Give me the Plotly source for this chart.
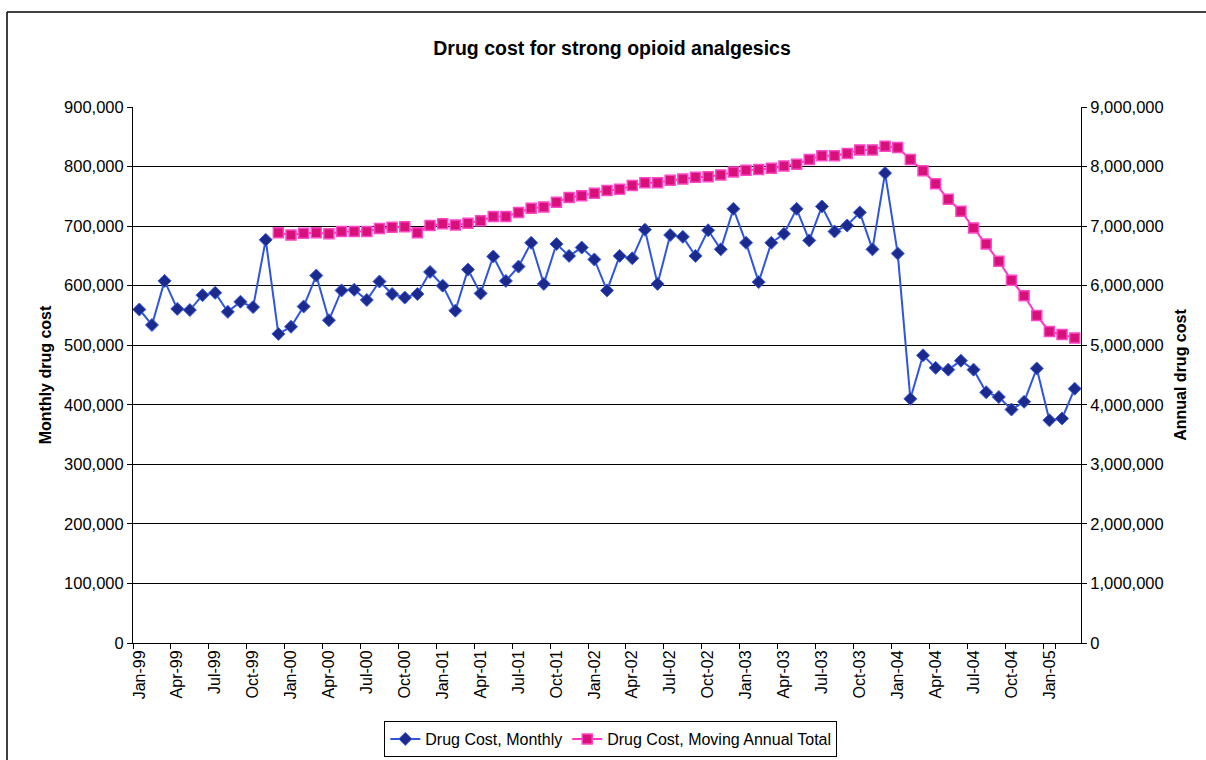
import plotly.graph_objects as go

months = ["Jan", "Feb", "Mar", "Apr", "May", "Jun", "Jul", "Aug", "Sep", "Oct", "Nov", "Dec"]
years = ["99", "00", "01", "02", "03", "04", "05"]
categories = [f"{m}-{y}" for y in years for m in months][:75]  # Jan-99 .. Mar-05

monthly_cost = [
    560000, 534000, 608000, 561000, 559000, 584000, 588000, 556000, 573000, 564000, 677000, 519000,
    531000, 565000, 617000, 542000, 592000, 593000, 576000, 607000, 586000, 580000, 586000, 623000,
    600000, 558000, 627000, 587000, 649000, 608000, 632000, 672000, 603000, 670000, 650000, 664000,
    644000, 592000, 650000, 646000, 694000, 603000, 685000, 682000, 650000, 693000, 661000, 729000,
    672000, 606000, 672000, 687000, 729000, 676000, 733000, 691000, 701000, 723000, 661000, 789000,
    654000, 410000, 483000, 462000, 459000, 474000, 459000, 421000, 413000, 392000, 405000, 461000,
    374000, 377000, 427000,
]

moving_annual_total = [None] * 11 + [
    6890000,
    6850000, 6880000, 6890000, 6870000, 6910000, 6910000, 6910000, 6960000, 6980000, 6990000, 6890000, 7010000,
    7040000, 7020000, 7050000, 7090000, 7160000, 7160000, 7230000, 7300000, 7320000, 7400000, 7480000, 7510000,
    7550000, 7600000, 7620000, 7680000, 7730000, 7730000, 7770000, 7790000, 7820000, 7830000, 7860000, 7910000,
    7940000, 7950000, 7970000, 8010000, 8040000, 8120000, 8180000, 8180000, 8220000, 8280000, 8280000, 8340000,
    8320000, 8120000, 7930000, 7710000, 7450000, 7250000, 6970000, 6700000, 6410000, 6090000, 5830000, 5500000,
    5230000, 5180000, 5120000,
]

tick_labels = categories[::3]

FONT = "Liberation Sans, Arial, sans-serif"

fig = go.Figure()
fig.add_trace(go.Scatter(
    x=categories, y=monthly_cost, name="Drug Cost, Monthly", mode="lines+markers",
    line=dict(color="#2f55e0", width=2),
    marker=dict(symbol="diamond", size=10, color="#1c2a8c", line=dict(color="#3a5ce8", width=1)),
    yaxis="y",
))
fig.add_trace(go.Scatter(
    x=categories, y=moving_annual_total, name="Drug Cost, Moving Annual Total", mode="lines+markers",
    line=dict(color="#ff33c4", width=2),
    marker=dict(symbol="square", size=10, color="#d6117a", line=dict(color="#ff45c8", width=1.5)),
    yaxis="y2",
))

fig.update_layout(
    width=1206, height=760,
    margin=dict(l=133, r=125, t=107, b=117),
    paper_bgcolor="white", plot_bgcolor="white",
    font=dict(family=FONT, color="black", size=16),
    title=dict(text="<b>Drug cost for strong opioid analgesics</b>", x=0.5075, xanchor="center",
               y=1 - 48 / 760, yanchor="middle", yref="container", font=dict(size=19.5, family=FONT)),
    xaxis=dict(
        type="category", categoryorder="array", categoryarray=categories,
        range=[-0.5, 74.5], tickmode="array", tickvals=tick_labels, ticktext=tick_labels,
        tickson="boundaries", ticks="outside", ticklen=5, tickcolor="black",
        tickangle=-90, tickfont=dict(size=16), automargin=False,
        showgrid=False, showline=True, linecolor="black", linewidth=1, zeroline=False,
    ),
    yaxis=dict(
        range=[0, 900000], dtick=100000, tickformat=",", ticks="outside", ticklen=5, tickcolor="black",
        showgrid=True, gridcolor="black", gridwidth=1, showline=True, linecolor="black", linewidth=1,
        zeroline=False, tickfont=dict(size=16.5), automargin=False,
        title=dict(text="<b>Monthly drug cost</b>", font=dict(size=16), standoff=8),
    ),
    yaxis2=dict(
        range=[0, 9000000], dtick=1000000, tickformat=",", overlaying="y", side="right",
        ticks="outside", ticklen=5, tickcolor="black", showgrid=False, showline=True,
        linecolor="black", linewidth=1, zeroline=False, tickfont=dict(size=16.5), automargin=False,
        title=dict(text="<b>Annual drug cost</b>", font=dict(size=16), standoff=12),
    ),
    legend=dict(
        orientation="h", x=0.504, xanchor="center", yref="container", y=1 - 739 / 760, yanchor="middle",
        bordercolor="black", borderwidth=1, font=dict(size=16), itemwidth=30,
        tracegroupgap=0,
    ),
    showlegend=True,
)

# outer chart-area border (left and top edges as in the scanned page)
fig.add_shape(type="line", xref="paper", yref="paper", x0=(7 - 133) / 948, x1=(7 - 133) / 948,
              y0=(643 - 12) / 536, y1=(643 - 775) / 536, line=dict(color="black", width=1.5))
fig.add_shape(type="line", xref="paper", yref="paper", x0=(7 - 133) / 948, x1=(1215 - 133) / 948,
              y0=(643 - 12) / 536, y1=(643 - 12) / 536, line=dict(color="black", width=1.5))

fig.write_html("out.html")
